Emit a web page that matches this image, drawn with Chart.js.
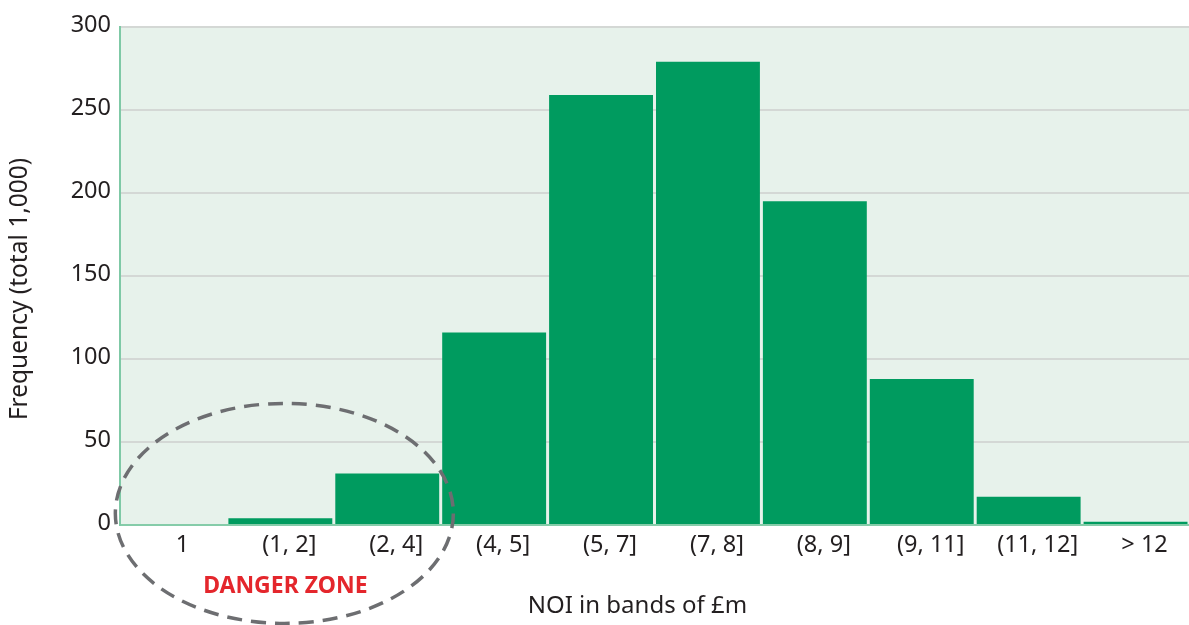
<!DOCTYPE html>
<html>
<head>
<meta charset="utf-8">
<script src="https://cdn.jsdelivr.net/npm/chart.js@4.4.1/dist/chart.umd.min.js"></script>
<style>
  html, body { margin: 0; padding: 0; background: #ffffff; }
  #wrap { width: 1189px; height: 625px; position: relative; }
</style>
</head>
<body>
<div id="wrap"><canvas id="noiChart"></canvas></div>
<script>
// NOI bands (in £m) and how many of the 1,000 simulated outcomes fall in each
const bands = ['1', '(1, 2]', '(2, 4]', '(4, 5]', '(5, 7]', '(7, 8]', '(8, 9]', '(9, 11]', '(11, 12]', '> 12'];
const frequency = [0, 4, 31, 116, 259, 279, 195, 88, 17, 2];
const yTicks = [0, 50, 100, 150, 200, 250, 300];
const xTitle = 'NOI in bands of £m';
const yTitle = 'Frequency (total 1,000)';
const zoneLabel = 'DANGER ZONE';

const FONT = "'Noto Sans', 'DejaVu Sans', sans-serif";
const TEXT = '#231f20';

// light green panel behind the bars
const plotBackground = {
  id: 'plotBackground',
  beforeDraw(chart) {
    const { ctx, chartArea: a } = chart;
    ctx.save();
    ctx.fillStyle = '#e7f2eb';
    ctx.fillRect(a.left, a.top, a.right - a.left, a.bottom - a.top);
    ctx.restore();
  }
};

// dashed ring around the lowest bands, plus the axis captions
const dangerZone = {
  id: 'dangerZone',
  afterDraw(chart) {
    const { ctx, scales: { x, y }, chartArea: a } = chart;
    const cx = x.getPixelForValue(1) + 4;
    const cy = y.getPixelForValue(7);
    ctx.save();
    ctx.beginPath();
    ctx.setLineDash([15, 9]);
    ctx.lineWidth = 3.5;
    ctx.strokeStyle = '#6d6e71';
    ctx.ellipse(cx, cy, 169, 110, 0, 0, Math.PI * 2);
    ctx.stroke();
    ctx.setLineDash([]);
    ctx.fillStyle = '#e4262c';
    ctx.font = "bold 23px " + FONT;
    ctx.textAlign = 'center';
    ctx.textBaseline = 'middle';
    ctx.fillText(zoneLabel, cx + 1, 586);

    ctx.fillStyle = TEXT;
    ctx.font = "24px " + FONT;
    ctx.fillText(xTitle, a.left + (a.right - a.left) * 0.484, 606);

    ctx.translate(20, 289);
    ctx.rotate(-Math.PI / 2);
    ctx.font = "24.5px " + FONT;
    ctx.fillText(yTitle, 0, 0);
    ctx.restore();
  }
};

new Chart(document.getElementById('noiChart'), {
  type: 'bar',
  data: {
    labels: bands,
    datasets: [{
      data: frequency,
      backgroundColor: '#009b5f',
      borderWidth: 0,
      barPercentage: 1,
      categoryPercentage: 0.972
    }]
  },
  options: {
    responsive: true,
    maintainAspectRatio: false,
    animation: false,
    devicePixelRatio: 1,
    layout: { padding: { top: 27, right: 0, bottom: 0, left: 0 } },
    plugins: {
      legend: { display: false },
      tooltip: { enabled: false }
    },
    scales: {
      x: {
        afterFit(scale) { scale.height = 100; },
        grid: { display: false, drawTicks: false },
        border: { display: true, color: '#85cca9', width: 2, z: 1 },
        ticks: {
          color: TEXT,
          font: { family: FONT, size: 23.5 },
          padding: 6,
          labelOffset: 9,
          maxRotation: 0,
          autoSkip: false
        }
      },
      y: {
        min: 0,
        max: 300,
        afterFit(scale) { scale.width = 120; },
        afterBuildTicks(scale) { scale.ticks = yTicks.map(v => ({ value: v })); },
        grid: { color: '#d4d8d5', lineWidth: 2, drawTicks: false },
        border: { display: true, color: '#7fc9a6', width: 2, z: 1 },
        ticks: {
          color: TEXT,
          font: { family: FONT, size: 23.5 },
          padding: 9,
          labelOffset: -2
        }
      }
    }
  },
  plugins: [plotBackground, dangerZone]
});
</script>
</body>
</html>
